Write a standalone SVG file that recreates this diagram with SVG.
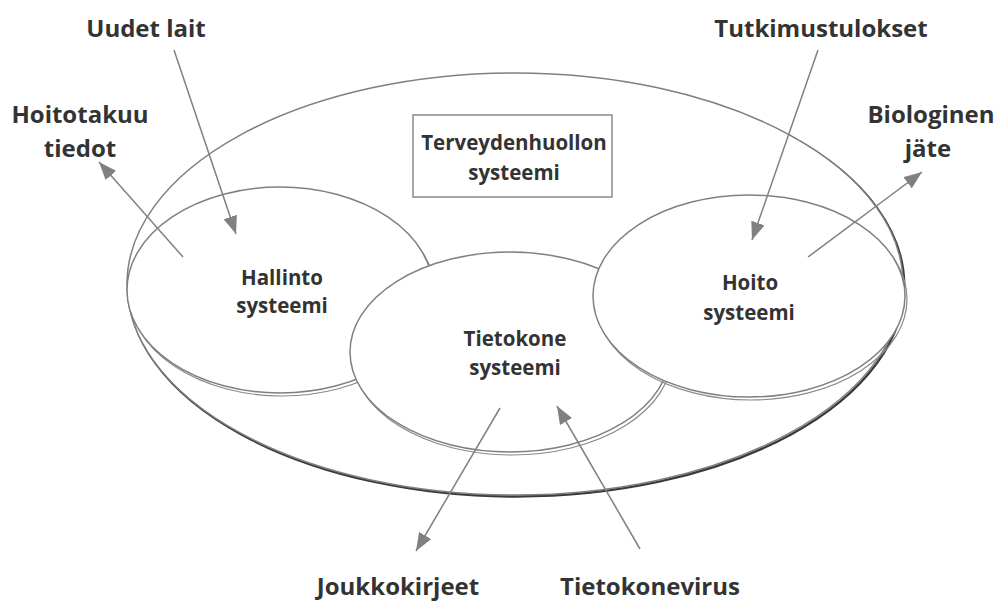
<svg xmlns="http://www.w3.org/2000/svg" width="999" height="602" viewBox="0 0 999 602">
  <style>
    .bg { fill: #ffffff; }
    .shadow-outer { fill: none; stroke: #3a3a3a; stroke-width: 2.4; }
    .shadow { fill: none; stroke: #8a8a8a; stroke-width: 1.2; }
    .disc { fill: #ffffff; stroke: #808080; stroke-width: 1.5; }
    .box { fill: #ffffff; stroke: #8a8a8a; stroke-width: 1.5; }
    .edge { fill: none; stroke: #808080; stroke-width: 1.5; marker-end: url(#ah); }
    text { font-family: "Open Sans", "Noto Sans", "Liberation Sans", sans-serif; font-weight: bold; fill: #333333; text-anchor: middle; }
    .lbl { font-size: 24px; }
    .node { font-size: 20.5px; }
  </style>
  <defs>
    <marker id="ah" viewBox="0 0 18 14" refX="18" refY="7" markerWidth="18" markerHeight="14" markerUnits="userSpaceOnUse" orient="auto">
      <path d="M0,0 L18,7 L0,14 z" fill="#808080"/>
    </marker>
  </defs>

  <rect class="bg" x="0" y="0" width="999" height="602"/>

  <!-- outer disc: health care system -->
  <g id="terveydenhuolto">
    <ellipse class="shadow-outer" cx="516.2" cy="285.5" rx="388" ry="211"/>
    <ellipse class="disc" cx="515" cy="284" rx="388" ry="211"/>
    <rect class="box" x="413" y="115" width="199" height="82"/>
    <text class="node" x="514" y="150">Terveydenhuollon</text>
    <text class="node" x="514" y="180">systeemi</text>
  </g>

  <g id="hallinto">
    <ellipse class="shadow" cx="282" cy="293" rx="153" ry="103"/>
    <ellipse class="disc" cx="280" cy="290" rx="153" ry="103"/>
    <text class="node" x="282" y="285">Hallinto</text>
    <text class="node" x="282" y="313">systeemi</text>
  </g>

  <g id="tietokone">
    <ellipse class="shadow" cx="512" cy="355" rx="160" ry="100"/>
    <ellipse class="disc" cx="510" cy="352" rx="160" ry="100"/>
    <text class="node" x="515" y="346">Tietokone</text>
    <text class="node" x="515" y="375">systeemi</text>
  </g>

  <g id="hoito">
    <ellipse class="shadow" cx="751" cy="299" rx="156" ry="101"/>
    <ellipse class="disc" cx="749" cy="296" rx="156" ry="101"/>
    <text class="node" x="750" y="290">Hoito</text>
    <text class="node" x="749" y="320">systeemi</text>
  </g>

  <!-- external inputs and outputs -->
  <g id="labels">
    <text class="lbl" x="146" y="37">Uudet lait</text>
    <text class="lbl" x="80" y="123">Hoitotakuu</text>
    <text class="lbl" x="80" y="157">tiedot</text>
    <text class="lbl" x="821" y="37">Tutkimustulokset</text>
    <text class="lbl" x="931" y="123">Biologinen</text>
    <text class="lbl" x="928" y="157">jäte</text>
    <text class="lbl" x="398" y="595">Joukkokirjeet</text>
    <text class="lbl" x="650" y="595">Tietokonevirus</text>
  </g>

  <g id="connectors">
    <line class="edge" x1="174" y1="50" x2="236" y2="234"/>
    <line class="edge" x1="183" y1="257" x2="99" y2="162"/>
    <line class="edge" x1="818" y1="50" x2="752" y2="240"/>
    <line class="edge" x1="808" y1="257" x2="922" y2="172"/>
    <line class="edge" x1="500" y1="408" x2="416" y2="551"/>
    <line class="edge" x1="640" y1="549" x2="557" y2="406"/>
  </g>
</svg>
